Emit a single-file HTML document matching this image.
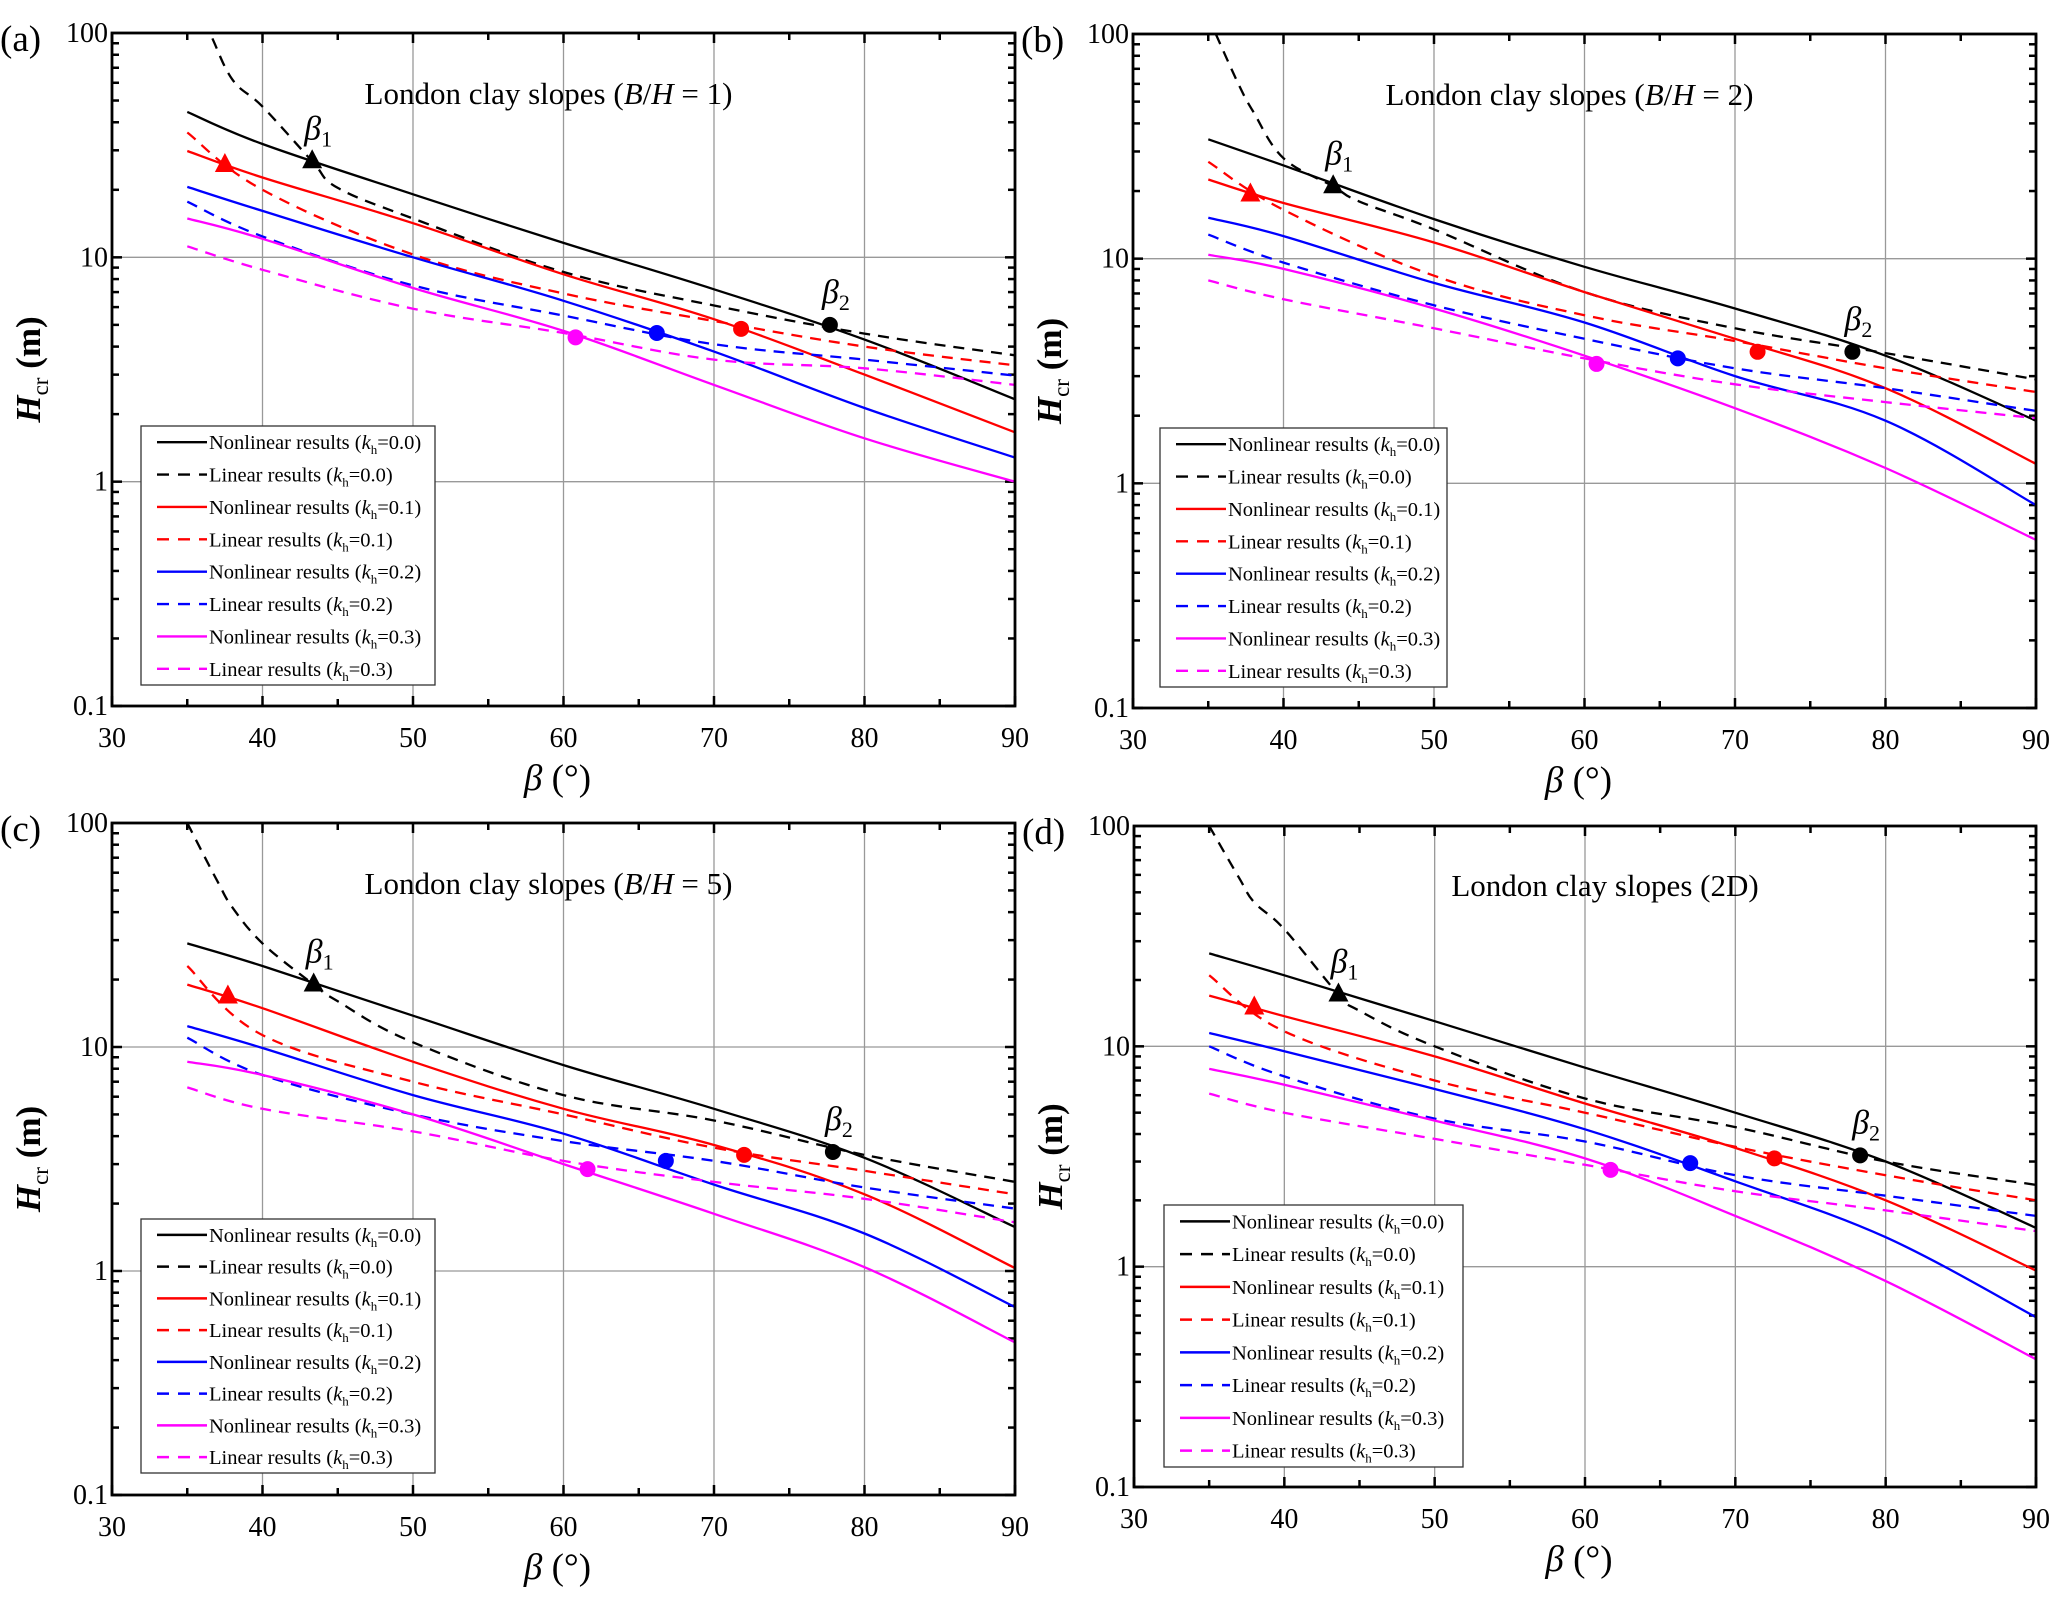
<!DOCTYPE html>
<html><head><meta charset="utf-8"><style>
html,body{margin:0;padding:0;background:#fff;}
svg{display:block;}
svg text{font-family:"Liberation Serif","DejaVu Serif",serif;}
</style></head><body>
<svg id="fig" width="2067" height="1603" viewBox="0 0 2067 1603" xmlns="http://www.w3.org/2000/svg" font-family="Liberation Serif, serif"></svg>
<script>
// ---------- data ----------
const betaGrid = [35,40,50,60,70,80,90];
const panelIds = ['a','b','c','d'];
const panelTitles = ['B/H = 1','B/H = 2','B/H = 5','2D'];
const seriesLabels = ['Nonlinear results (k_h=0.0)','Linear results (k_h=0.0)','Nonlinear results (k_h=0.1)','Linear results (k_h=0.1)','Nonlinear results (k_h=0.2)','Linear results (k_h=0.2)','Nonlinear results (k_h=0.3)','Linear results (k_h=0.3)'];
const khValues = ['0.0','0.0','0.1','0.1','0.2','0.2','0.3','0.3'];
const xTicks = [30,40,50,60,70,80,90];
const yTicks = [0.1,1,10,100];
const yTickLabels = ['0.1','1','10','100'];

// panel a
const a_nl0 = [44.5,32,19.1,11.6,7.2,4.3,2.33];
const a_l0x = [35,36.5,38,40,43.3,45,50,60,70,80,90];
const a_l0 = [160,100,62,47,26.8,20.4,14.9,8.6,6.1,4.57,3.66];
const a_nl1 = [29.8,22.7,14.2,8.4,5.3,3.0,1.66];
const a_l1 = [36,20,10.3,6.9,5.2,4.0,3.3];
const a_nl2 = [20.6,16.1,10,6.4,3.8,2.13,1.28];
const a_l2 = [17.7,12.4,7.5,5.5,4.1,3.5,2.97];
const a_nl3 = [14.9,12.1,7.3,4.7,2.7,1.56,1.0];
const a_l3 = [11.2,8.8,5.9,4.6,3.5,3.2,2.7];
const a_markX = [43.3,37.5,77.7,71.8,66.2,60.8];
const a_markY = [26.8,25.8,5.0,4.8,4.6,4.4];
// panel b
const b_nl0 = [34,26,15,9.2,6.0,3.7,1.9];
const b_l0x = [35.5,37,38,40,43.3,45,50,60,70,80,90];
const b_l0 = [100,60,45,28,21,18,13.5,7.1,4.9,3.8,2.9];
const b_nl1 = [22.5,17.7,11.8,7.1,4.4,2.65,1.22];
const b_l1 = [27,16.5,8.4,5.6,4.3,3.25,2.55];
const b_nl2 = [15.2,12.6,7.8,5.2,3.0,1.9,0.8];
const b_l2 = [12.8,9.6,6.2,4.4,3.25,2.65,2.1];
const b_nl3 = [10.4,9.0,6.0,3.7,2.16,1.17,0.56];
const b_l3 = [8.0,6.6,4.9,3.6,2.76,2.3,1.95];
const b_markX = [43.3,37.8,77.8,71.5,66.2,60.8];
const b_markY = [21,19.3,3.85,3.85,3.6,3.4];
// panel c
const c_nl0 = [29,23,13.8,8.3,5.3,3.2,1.57];
const c_l0x = [35,37,38,40,43.4,45,50,60,70,80,90];
const c_l0 = [100,55,42,29,19,16,10.5,6.1,4.7,3.3,2.5];
const c_nl1 = [19,14.9,8.6,5.3,3.65,2.2,1.03];
const c_l1 = [23,11.3,7.0,5.0,3.55,2.8,2.2];
const c_nl2 = [12.4,9.9,6.1,4.1,2.43,1.47,0.69];
const c_l2 = [11,7.5,5.0,3.8,3.1,2.36,1.9];
const c_nl3 = [8.6,7.5,5.0,3.0,1.8,1.04,0.48];
const c_l3 = [6.6,5.3,4.2,3.1,2.5,2.1,1.65];
const c_markX = [43.4,37.7,77.9,72,66.8,61.6];
const c_markY = [19,16.8,3.4,3.3,3.1,2.85];
// panel d
const d_nl0 = [26.4,21,13,8.0,5.0,3.0,1.5];
const d_l0x = [35,37,38,40,43.6,45,50,60,70,80,90];
const d_l0 = [100,58,45,34,17.2,14.5,10,5.8,4.3,3.0,2.35];
const d_nl1 = [17,13.7,9.0,5.5,3.46,2.0,0.96];
const d_l1 = [21,11.7,7.0,5.0,3.5,2.6,2.0];
const d_nl2 = [11.5,9.5,6.4,4.2,2.44,1.36,0.59];
const d_l2 = [10,7.3,4.7,3.7,2.6,2.1,1.7];
const d_nl3 = [7.9,6.7,4.6,3.1,1.7,0.86,0.38];
const d_l3 = [6.1,5.0,3.8,2.9,2.2,1.8,1.45];
const d_markX = [43.6,38,78.3,72.6,67,61.7];
const d_markY = [17.2,15,3.2,3.1,2.95,2.75];

// ---------- layout ----------
const frames = [
  {x0:112,x1:1015,y0:33,y1:706, leg:[141,426,435,685]},
  {x0:1133,x1:2036,y0:34,y1:708, leg:[1160,428,1447,687]},
  {x0:112,x1:1015,y0:823,y1:1495, leg:[141,1219,435,1473]},
  {x0:1134,x1:2036,y0:826,y1:1487, leg:[1164,1205,1463,1467]}
];
const colors = ['#000','#000','#ff0000','#ff0000','#0000ff','#0000ff','#ff00ff','#ff00ff'];
const markColors = ['#000','#ff0000','#000','#ff0000','#0000ff','#ff00ff'];
const NS = 'http://www.w3.org/2000/svg';
const FONT = '"Liberation Serif", serif';
const svg = document.getElementById('fig');
function mk(tag, attrs, parent){ const e=document.createElementNS(NS,tag); for(const k in attrs) e.setAttribute(k,attrs[k]); if(tag==='text') e.setAttribute('font-family',FONT); (parent||svg).appendChild(e); return e; }

function smoothPath(P){
  let d='M'+P[0][0].toFixed(1)+','+P[0][1].toFixed(1);
  for(let i=0;i<P.length-1;i++){
    const p0=P[i-1]||P[i], p1=P[i], p2=P[i+1], p3=P[i+2]||P[i+1];
    const t=0.18;
    const c1=[p1[0]+(p2[0]-p0[0])*t, p1[1]+(p2[1]-p0[1])*t];
    const c2=[p2[0]-(p3[0]-p1[0])*t, p2[1]-(p3[1]-p1[1])*t];
    d+=' C'+c1[0].toFixed(1)+','+c1[1].toFixed(1)+' '+c2[0].toFixed(1)+','+c2[1].toFixed(1)+' '+p2[0].toFixed(1)+','+p2[1].toFixed(1);
  }
  return d;
}

const allData = {
 a:{series:[[betaGrid,a_nl0],[a_l0x,a_l0],[betaGrid,a_nl1],[betaGrid,a_l1],[betaGrid,a_nl2],[betaGrid,a_l2],[betaGrid,a_nl3],[betaGrid,a_l3]],mx:a_markX,my:a_markY},
 b:{series:[[betaGrid,b_nl0],[b_l0x,b_l0],[betaGrid,b_nl1],[betaGrid,b_l1],[betaGrid,b_nl2],[betaGrid,b_l2],[betaGrid,b_nl3],[betaGrid,b_l3]],mx:b_markX,my:b_markY},
 c:{series:[[betaGrid,c_nl0],[c_l0x,c_l0],[betaGrid,c_nl1],[betaGrid,c_l1],[betaGrid,c_nl2],[betaGrid,c_l2],[betaGrid,c_nl3],[betaGrid,c_l3]],mx:c_markX,my:c_markY},
 d:{series:[[betaGrid,d_nl0],[d_l0x,d_l0],[betaGrid,d_nl1],[betaGrid,d_l1],[betaGrid,d_nl2],[betaGrid,d_l2],[betaGrid,d_nl3],[betaGrid,d_l3]],mx:d_markX,my:d_markY}
};

panelIds.forEach((pid, pi) => {
  const F = frames[pi];
  const sx = v => F.x0 + (v-30)/60*(F.x1-F.x0);
  const sy = v => F.y1 - (Math.log10(v)+1)/3*(F.y1-F.y0);
  const g = mk('g',{});
  
  
  const cp = mk('clipPath',{id:'clip'+pid}, g);
  mk('rect',{x:F.x0,y:F.y0,width:F.x1-F.x0,height:F.y1-F.y0}, cp);

  [40,50,60,70,80].forEach(v=>{ const l=mk('line',{x1:sx(v),x2:sx(v),y1:F.y0,y2:F.y1,stroke:'#999','stroke-width':1.3},g);
      });
  [1,10].forEach(v=>{ const l=mk('line',{x1:F.x0,x2:F.x1,y1:sy(v),y2:sy(v),stroke:'#999','stroke-width':1.3},g);
      });

  for(let v=30; v<=90; v+=5){ const major=(v%10===0); const len=major?10:7;
    mk('line',{x1:sx(v),x2:sx(v),y1:F.y1,y2:F.y1-len,stroke:'#000','stroke-width':2.5},g);
    mk('line',{x1:sx(v),x2:sx(v),y1:F.y0,y2:F.y0+len,stroke:'#000','stroke-width':2.5},g); }
  for(let e=-1;e<2;e++){ for(let m=1;m<=9;m++){ const v=m*Math.pow(10,e); const len=(m===1)?10:7;
    mk('line',{x1:F.x0,x2:F.x0+len,y1:sy(v),y2:sy(v),stroke:'#000','stroke-width':2.5},g);
    mk('line',{x1:F.x1,x2:F.x1-len,y1:sy(v),y2:sy(v),stroke:'#000','stroke-width':2.5},g); } }

  const D = allData[pid];
  const sg = mk('g',{'clip-path':'url(#clip'+pid+')'},g);
  D.series.forEach((s,si)=>{
    const P = s[0].map((x,i)=>[sx(x), sy(s[1][i])]);
    const pl = mk('path',{d:smoothPath(P),fill:'none',stroke:colors[si],'stroke-width':2.3,'stroke-linejoin':'round'},sg);
    if(si%2===1) pl.setAttribute('stroke-dasharray','11,8');
    
    
  });
  D.mx.forEach((x,i)=>{
    const cx=sx(x), cy=sy(D.my[i]);
    let m;
    if(i<2){ m=mk('polygon',{points:`${cx},${cy-12} ${cx-10},${cy+7} ${cx+10},${cy+7}`,fill:markColors[i]},g); }
    else { m=mk('circle',{cx:cx,cy:cy,r:8,fill:markColors[i]},g); }
    
    
  });
  [[0,1],[2,2]].forEach(([mi,sub])=>{
    const t=mk('text',{x:sx(D.mx[mi])-8,y:sy(D.my[mi])-22,'font-size':34,'font-style':'italic'},g);
    t.textContent='β';
    const s=mk('tspan',{'font-size':22,'font-style':'normal',dy:7},t); s.textContent=String(sub);
     
  });

  const fr=mk('rect',{x:F.x0,y:F.y0,width:F.x1-F.x0,height:F.y1-F.y0,fill:'none',stroke:'#000','stroke-width':2.8},g);
   

  xTicks.forEach(v=>{ const t=mk('text',{x:sx(v),y:F.y1+41,'font-size':28,'text-anchor':'middle'},g); t.textContent=String(v);
      });
  yTicks.forEach((v,i)=>{ const t=mk('text',{x:F.x0-4,y:sy(v)+9,'font-size':28,'text-anchor':'end'},g); t.textContent=yTickLabels[i];
      });
  const pl=mk('text',{x:F.x0-112,y:F.y0+18,'font-size':37},g); pl.textContent='('+pid+')';
   

  const xt=mk('text',{x:(F.x0+F.x1)/2-6,y:F.y1+84,'font-size':37,'text-anchor':'middle'},g);
  const b1=mk('tspan',{'font-style':'italic'},xt); b1.textContent='β';
  const b2=mk('tspan',{},xt); b2.textContent=' (°)';
   
  const ymid=(F.y0+F.y1)/2;
  const yt=mk('text',{x:0,y:0,'font-size':35,'text-anchor':'middle',transform:`translate(${F.x0-72},${ymid}) rotate(-90)`},g);
  const h1=mk('tspan',{'font-style':'italic','font-weight':'bold'},yt); h1.textContent='H';
  const h2=mk('tspan',{'font-size':23,dy:8},yt); h2.textContent='cr';
  const h3=mk('tspan',{dy:-8,'font-weight':'bold'},yt); h3.textContent=' (m)';
   

  const tt=mk('text',{x:(F.x0+F.x1)/2+(pi===3?20:-15),y:F.y0+(pi===3?70:71),'font-size':31,'text-anchor':'middle'},g);
   
  if(pi===3){ tt.textContent='London clay slopes (2D)'; }
  else { const t0=mk('tspan',{},tt); t0.textContent='London clay slopes (';
    const t1=mk('tspan',{'font-style':'italic'},tt); t1.textContent='B';
    const t2=mk('tspan',{},tt); t2.textContent='/';
    const t3=mk('tspan',{'font-style':'italic'},tt); t3.textContent='H';
    const t4=mk('tspan',{},tt); t4.textContent=' = '+panelTitles[pi].split('= ')[1]+')'; }

  const L=F.leg;
  const lg=mk('g',{},g);
   
  mk('rect',{x:L[0],y:L[1],width:L[2]-L[0],height:L[3]-L[1],fill:'#fff',stroke:'#333','stroke-width':1.3},lg);
  const rowH=(L[3]-L[1])/8;
  seriesLabels.forEach((lab,si)=>{
    const cy=L[1]+rowH*(si+0.5);
    const ln=mk('line',{x1:L[0]+16,x2:L[0]+66,y1:cy,y2:cy,stroke:colors[si],'stroke-width':2.4},lg);
    if(si%2===1) ln.setAttribute('stroke-dasharray','12,9');
    const t=mk('text',{x:L[0]+68,y:cy+7,'font-size':20.5},lg);
    const parts=lab.split('k_h');
    const p0=mk('tspan',{},t); p0.textContent=parts[0];
    const p1=mk('tspan',{'font-style':'italic'},t); p1.textContent='k';
    const p2=mk('tspan',{'font-size':13,dy:5},t); p2.textContent='h';
    const p3=mk('tspan',{dy:-5},t); p3.textContent=parts[1];
     
  });
});
</script>
</body></html>
